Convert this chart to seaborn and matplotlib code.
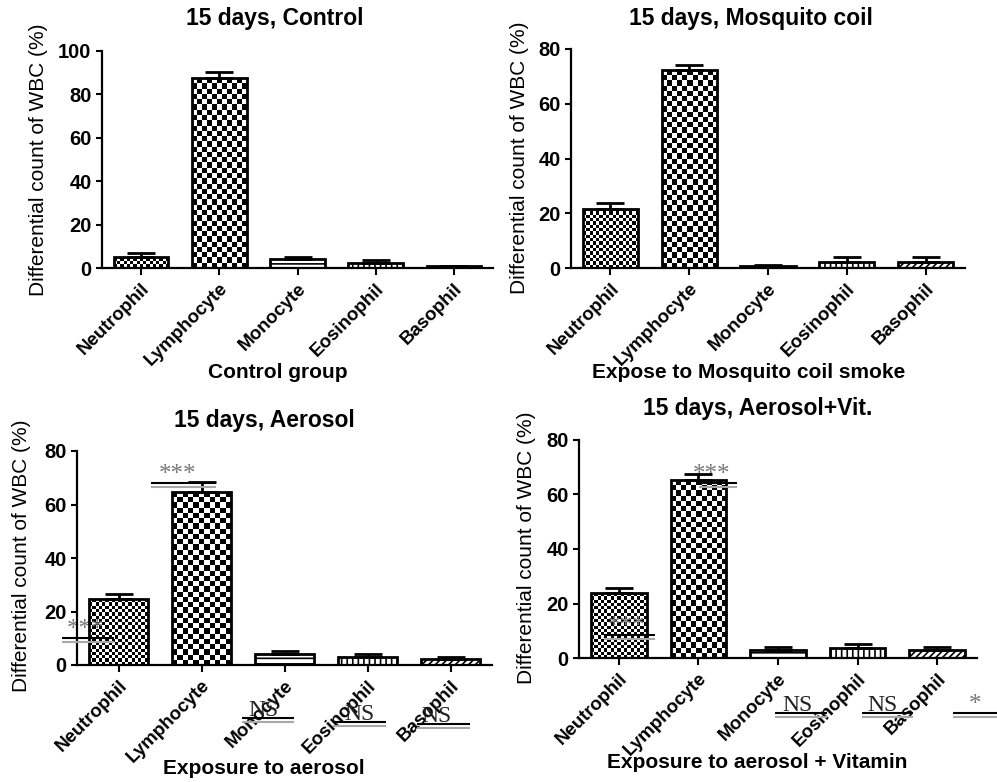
import numpy as np
import pandas as pd
import matplotlib
matplotlib.use("Agg")
import matplotlib.pyplot as plt
import seaborn as sns

# cell types on the x axis
cells = ["Neutrophil", "Lymphocyte", "Monocyte", "Eosinophil", "Basophil"]

# mean % and SEM
control_mean = [4.9, 87.4, 4.3, 2.3, 0.8]
control_sem = [1.9, 2.8, 0.9, 1.4, 0.3]
coil_mean = [21.7, 72.2, 0.85, 2.2, 2.2]
coil_sem = [2.2, 2.1, 0.2, 1.7, 1.7]
aerosol_mean = [24.5, 64.5, 4.0, 3.1, 2.1]
aerosol_sem = [2.0, 3.8, 1.2, 0.9, 1.0]
vit_mean = [23.8, 65.3, 3.05, 3.8, 3.05]
vit_sem = [2.0, 2.2, 0.85, 1.3, 0.85]

titles = ["15 days, Control", "15 days, Mosquito coil",
          "15 days, Aerosol", "15 days, Aerosol+Vit."]
xlabels = ["Control group", "Expose to Mosquito coil smoke",
           "Exposure to aerosol", "Exposure to aerosol + Vitamin"]
ylabel = "Differential count of WBC (%)"

# significance marks pasted on the lower panels: label, line x0, x1, line y, text x
aerosol_marks = [("***", 0.39, 1.18, 68.0, 0.71),
                 ("***", -0.68, -0.05, 10.1, -0.40),
                 ("NS", 1.49, 2.11, -19.8, 1.75),
                 ("NS", 2.59, 3.22, -21.3, 2.90),
                 ("NS", 3.60, 4.23, -22.0, 3.83)]
vit_marks = [("***", 1.01, 1.49, 64.2, 1.16),
             ("***", -0.19, 0.46, 8.4, 0.10),
             ("NS", 1.96, 2.61, -20.2, 2.25),
             ("NS", 3.05, 3.69, -20.2, 3.31),
             ("*", 4.20, 4.75, -20.2, 4.47)]

sns.set_style("ticks")
plt.rcParams["font.family"] = ["Liberation Sans", "DejaVu Sans"]
plt.rcParams["hatch.linewidth"] = 1.2
for key in ["text.color", "axes.labelcolor", "xtick.color", "ytick.color", "axes.edgecolor"]:
    plt.rcParams[key] = "black"

W, H = 997, 782
fig = plt.figure(figsize=(W / 100, H / 100), dpi=100)


def px(x, y):
    return x / W, 1 - y / H


def checker_fill(ax, patch, cell_px):
    x0, y0 = patch.get_x(), patch.get_y()
    w, h = patch.get_width(), patch.get_height()
    (a0, b0), (a1, b1) = ax.transData.transform([(x0, y0), (x0 + w, y0 + h)])
    nx = max(1, int(round((a1 - a0) / cell_px)))
    ny = max(1, int(round((b1 - b0) / cell_px)))
    board = np.add.outer(np.arange(ny), np.arange(nx)) % 2
    im = ax.imshow(board, cmap="gray", extent=(x0, x0 + w, y0, y0 + h),
                   aspect="auto", interpolation="nearest", origin="lower", zorder=1.5)
    im.set_clip_path(patch)
    patch.set_facecolor("none")
    patch.set_zorder(2)


def sig_mark(ax, label, x0, x1, y, tx):
    ax.plot([x0, x1], [y, y], color="black", lw=1.5, clip_on=False, zorder=6,
            solid_capstyle="butt")
    ax.plot([x0, x1], [y - 1.5, y - 1.5], color="#a8a8a8", lw=1.5, clip_on=False,
            zorder=6, solid_capstyle="butt")
    if "*" in label:
        col, size, zo = "#777777", 18, 1.8
    else:
        col, size, zo = "#222222", 17, 7
    ax.text(tx, y + 0.8, label, ha="center", va="baseline", fontsize=size, color=col,
            family=["Liberation Serif", "DejaVu Serif"], zorder=zo, clip_on=False)


panels = [
    # means, sems, ymax, axes box (left, top, right, bottom px), title xy, xlabel xy, ylabel xy, marks
    (control_mean, control_sem, 100, (102, 51, 493, 268), (275, 18), (278, 373), (38, 160), []),
    (coil_mean, coil_sem, 80, (571, 49, 965, 268), (751, 18), (749, 373), (519, 158), []),
    (aerosol_mean, aerosol_sem, 80, (77, 451, 492, 665), (264, 420), (264, 768), (22, 556), aerosol_marks),
    (vit_mean, vit_sem, 80, (579, 440, 977, 658), (758, 409), (757, 763), (526, 548), vit_marks),
]

hatches = [None, None, "---", "|||", "/////"]

for i, (means, sems, ymax, box, tpos, xlpos, ylpos, marks) in enumerate(panels):
    l, t, r, b = box
    ax = fig.add_axes([l / W, 1 - b / H, (r - l) / W, (b - t) / H])
    df = pd.DataFrame({"cell": cells, "pct": means})
    sns.barplot(data=df, x="cell", y="pct", ax=ax, color="white", edgecolor="black",
                linewidth=2, width=0.7, errorbar=None, saturation=1)
    ax.set_xlim(-0.5, 4.5)
    ax.set_ylim(0, ymax)
    ax.set_yticks(np.arange(0, ymax + 1, 20))

    bars = list(ax.patches)
    for patch, hatch in zip(bars, hatches):
        if hatch:
            patch.set_hatch(hatch)
    checker_fill(ax, bars[0], 3.3)
    checker_fill(ax, bars[1], 5.2)

    centers = [p.get_x() + p.get_width() / 2 for p in bars]
    ax.errorbar(centers, means, yerr=[np.zeros(len(sems)), sems], fmt="none",
                ecolor="black", elinewidth=2, capsize=10, capthick=2, zorder=3)

    sns.despine(ax=ax)
    for s in ["left", "bottom"]:
        ax.spines[s].set_linewidth(1.6)
    ax.tick_params(axis="both", width=1.5)
    ax.tick_params(axis="x", length=5, labelsize=13.5)
    ax.tick_params(axis="y", length=4, labelsize=14.5)
    ax.set_xlabel("")
    ax.set_ylabel("")
    ax.set_xticks(range(len(cells)))
    ax.set_xticklabels(cells, rotation=45, ha="right", rotation_mode="anchor",
                       fontweight="bold")
    for lab in ax.get_yticklabels():
        lab.set_fontweight("bold")

    for m in marks:
        sig_mark(ax, *m)

    fig.text(*px(*tpos), titles[i], ha="center", va="center", fontsize=16.5,
             fontweight="bold")
    fig.text(*px(*xlpos), xlabels[i], ha="center", va="center", fontsize=15,
             fontweight="bold")
    fig.text(*px(*ylpos), ylabel, ha="center", va="center", rotation=90, fontsize=15)

fig.savefig("out.png", dpi=100)
